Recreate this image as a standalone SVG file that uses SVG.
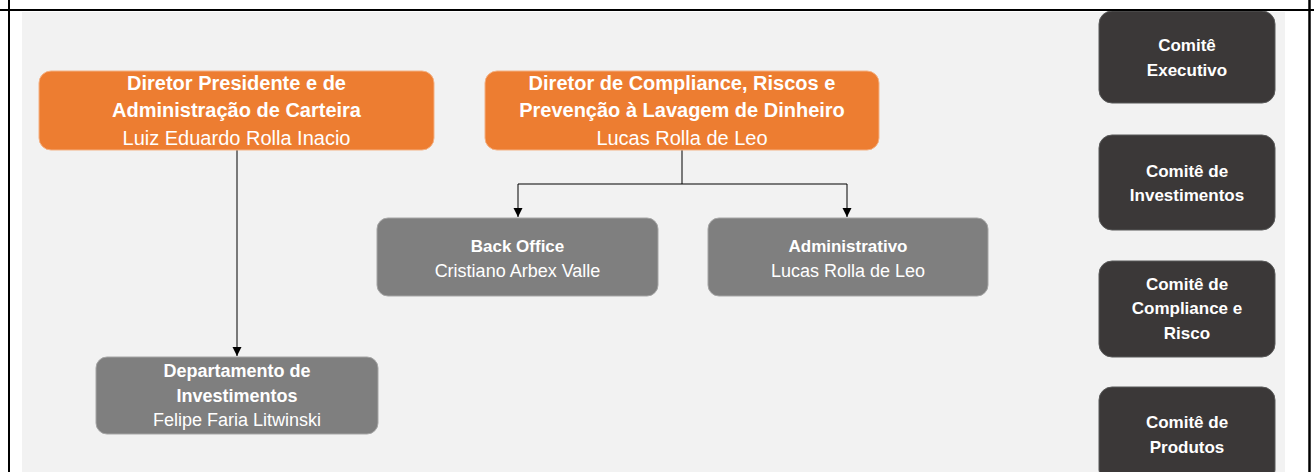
<svg xmlns="http://www.w3.org/2000/svg" width="1314" height="472" viewBox="0 0 1314 472">
<defs>
<style>
.t{font-family:"Liberation Sans",Arial,sans-serif;fill:#fff;text-anchor:middle}
.b{font-weight:bold}
.or{fill:#ed7d31;stroke:#f4b183;stroke-width:1}
.gr{fill:#7f7f7f;stroke:#a6a6a6;stroke-width:1}
.dk{fill:#3b3838;stroke:#595959;stroke-width:1}
.c{fill:none;stroke:#000;stroke-width:1}
</style>
<marker id="ah" markerWidth="10" markerHeight="10" refX="9" refY="5" orient="auto" markerUnits="userSpaceOnUse">
<path d="M0,0.5 L9,5 L0,9.5 Z" fill="#000"/>
</marker>
</defs>
<rect x="0" y="0" width="1314" height="472" fill="#fff"/>
<rect x="22" y="12" width="1263" height="460" fill="#f2f2f2"/>

<g id="connectors">
<path class="c" d="M237,150 V356" marker-end="url(#ah)"/>
<path class="c" d="M682,150 V184 H518 V217" marker-end="url(#ah)"/>
<path class="c" d="M682,184 H847 V217" marker-end="url(#ah)"/>
</g>

<g id="diretor-presidente">
<rect class="or" x="39" y="71" width="395" height="79" rx="12"/>
<text class="t b" x="236.5" y="90" font-size="20">Diretor Presidente e de</text>
<text class="t b" x="236.5" y="117" font-size="20">Administração de Carteira</text>
<text class="t" x="236.5" y="145" font-size="20">Luiz Eduardo Rolla Inacio</text>
</g>

<g id="diretor-compliance">
<rect class="or" x="485" y="71" width="394" height="79" rx="12"/>
<text class="t b" x="682" y="90" font-size="20">Diretor de Compliance, Riscos e</text>
<text class="t b" x="682" y="117" font-size="20">Prevenção à Lavagem de Dinheiro</text>
<text class="t" x="682" y="145" font-size="20">Lucas Rolla de Leo</text>
</g>

<g id="back-office">
<rect class="gr" x="377" y="218" width="281" height="78" rx="11"/>
<text class="t b" x="517.5" y="252" font-size="17">Back Office</text>
<text class="t" x="517.5" y="277" font-size="18">Cristiano Arbex Valle</text>
</g>

<g id="administrativo">
<rect class="gr" x="708" y="218" width="280" height="78" rx="11"/>
<text class="t b" x="848" y="252" font-size="17">Administrativo</text>
<text class="t" x="848" y="277" font-size="18">Lucas Rolla de Leo</text>
</g>

<g id="departamento-investimentos">
<rect class="gr" x="96" y="357" width="282" height="77" rx="11"/>
<text class="t b" x="237" y="377" font-size="18">Departamento de</text>
<text class="t b" x="237" y="402" font-size="18">Investimentos</text>
<text class="t" x="237" y="426" font-size="18">Felipe Faria Litwinski</text>
</g>

<g id="comite-executivo">
<rect class="dk" x="1099" y="11" width="176" height="92" rx="13"/>
<text class="t b" x="1187" y="51" font-size="17">Comitê</text>
<text class="t b" x="1187" y="76" font-size="17">Executivo</text>
</g>

<g id="comite-investimentos">
<rect class="dk" x="1099" y="135" width="176" height="95" rx="13"/>
<text class="t b" x="1187" y="177" font-size="17">Comitê de</text>
<text class="t b" x="1187" y="201" font-size="17">Investimentos</text>
</g>

<g id="comite-compliance">
<rect class="dk" x="1099" y="261" width="176" height="96" rx="13"/>
<text class="t b" x="1187" y="290" font-size="17">Comitê de</text>
<text class="t b" x="1187" y="314" font-size="17">Compliance e</text>
<text class="t b" x="1187" y="339" font-size="17">Risco</text>
</g>

<g id="comite-produtos">
<rect class="dk" x="1099" y="387" width="176" height="96" rx="13"/>
<text class="t b" x="1187" y="428" font-size="17">Comitê de</text>
<text class="t b" x="1187" y="453" font-size="17">Produtos</text>
</g>

<g id="frame">
<line x1="0" y1="10" x2="1314" y2="10" stroke="#000" stroke-width="2"/>
<line x1="9" y1="0" x2="9" y2="472" stroke="#000" stroke-width="2"/>
<line x1="1309.5" y1="0" x2="1309.5" y2="472" stroke="#000" stroke-width="2.5"/>
</g>
</svg>
